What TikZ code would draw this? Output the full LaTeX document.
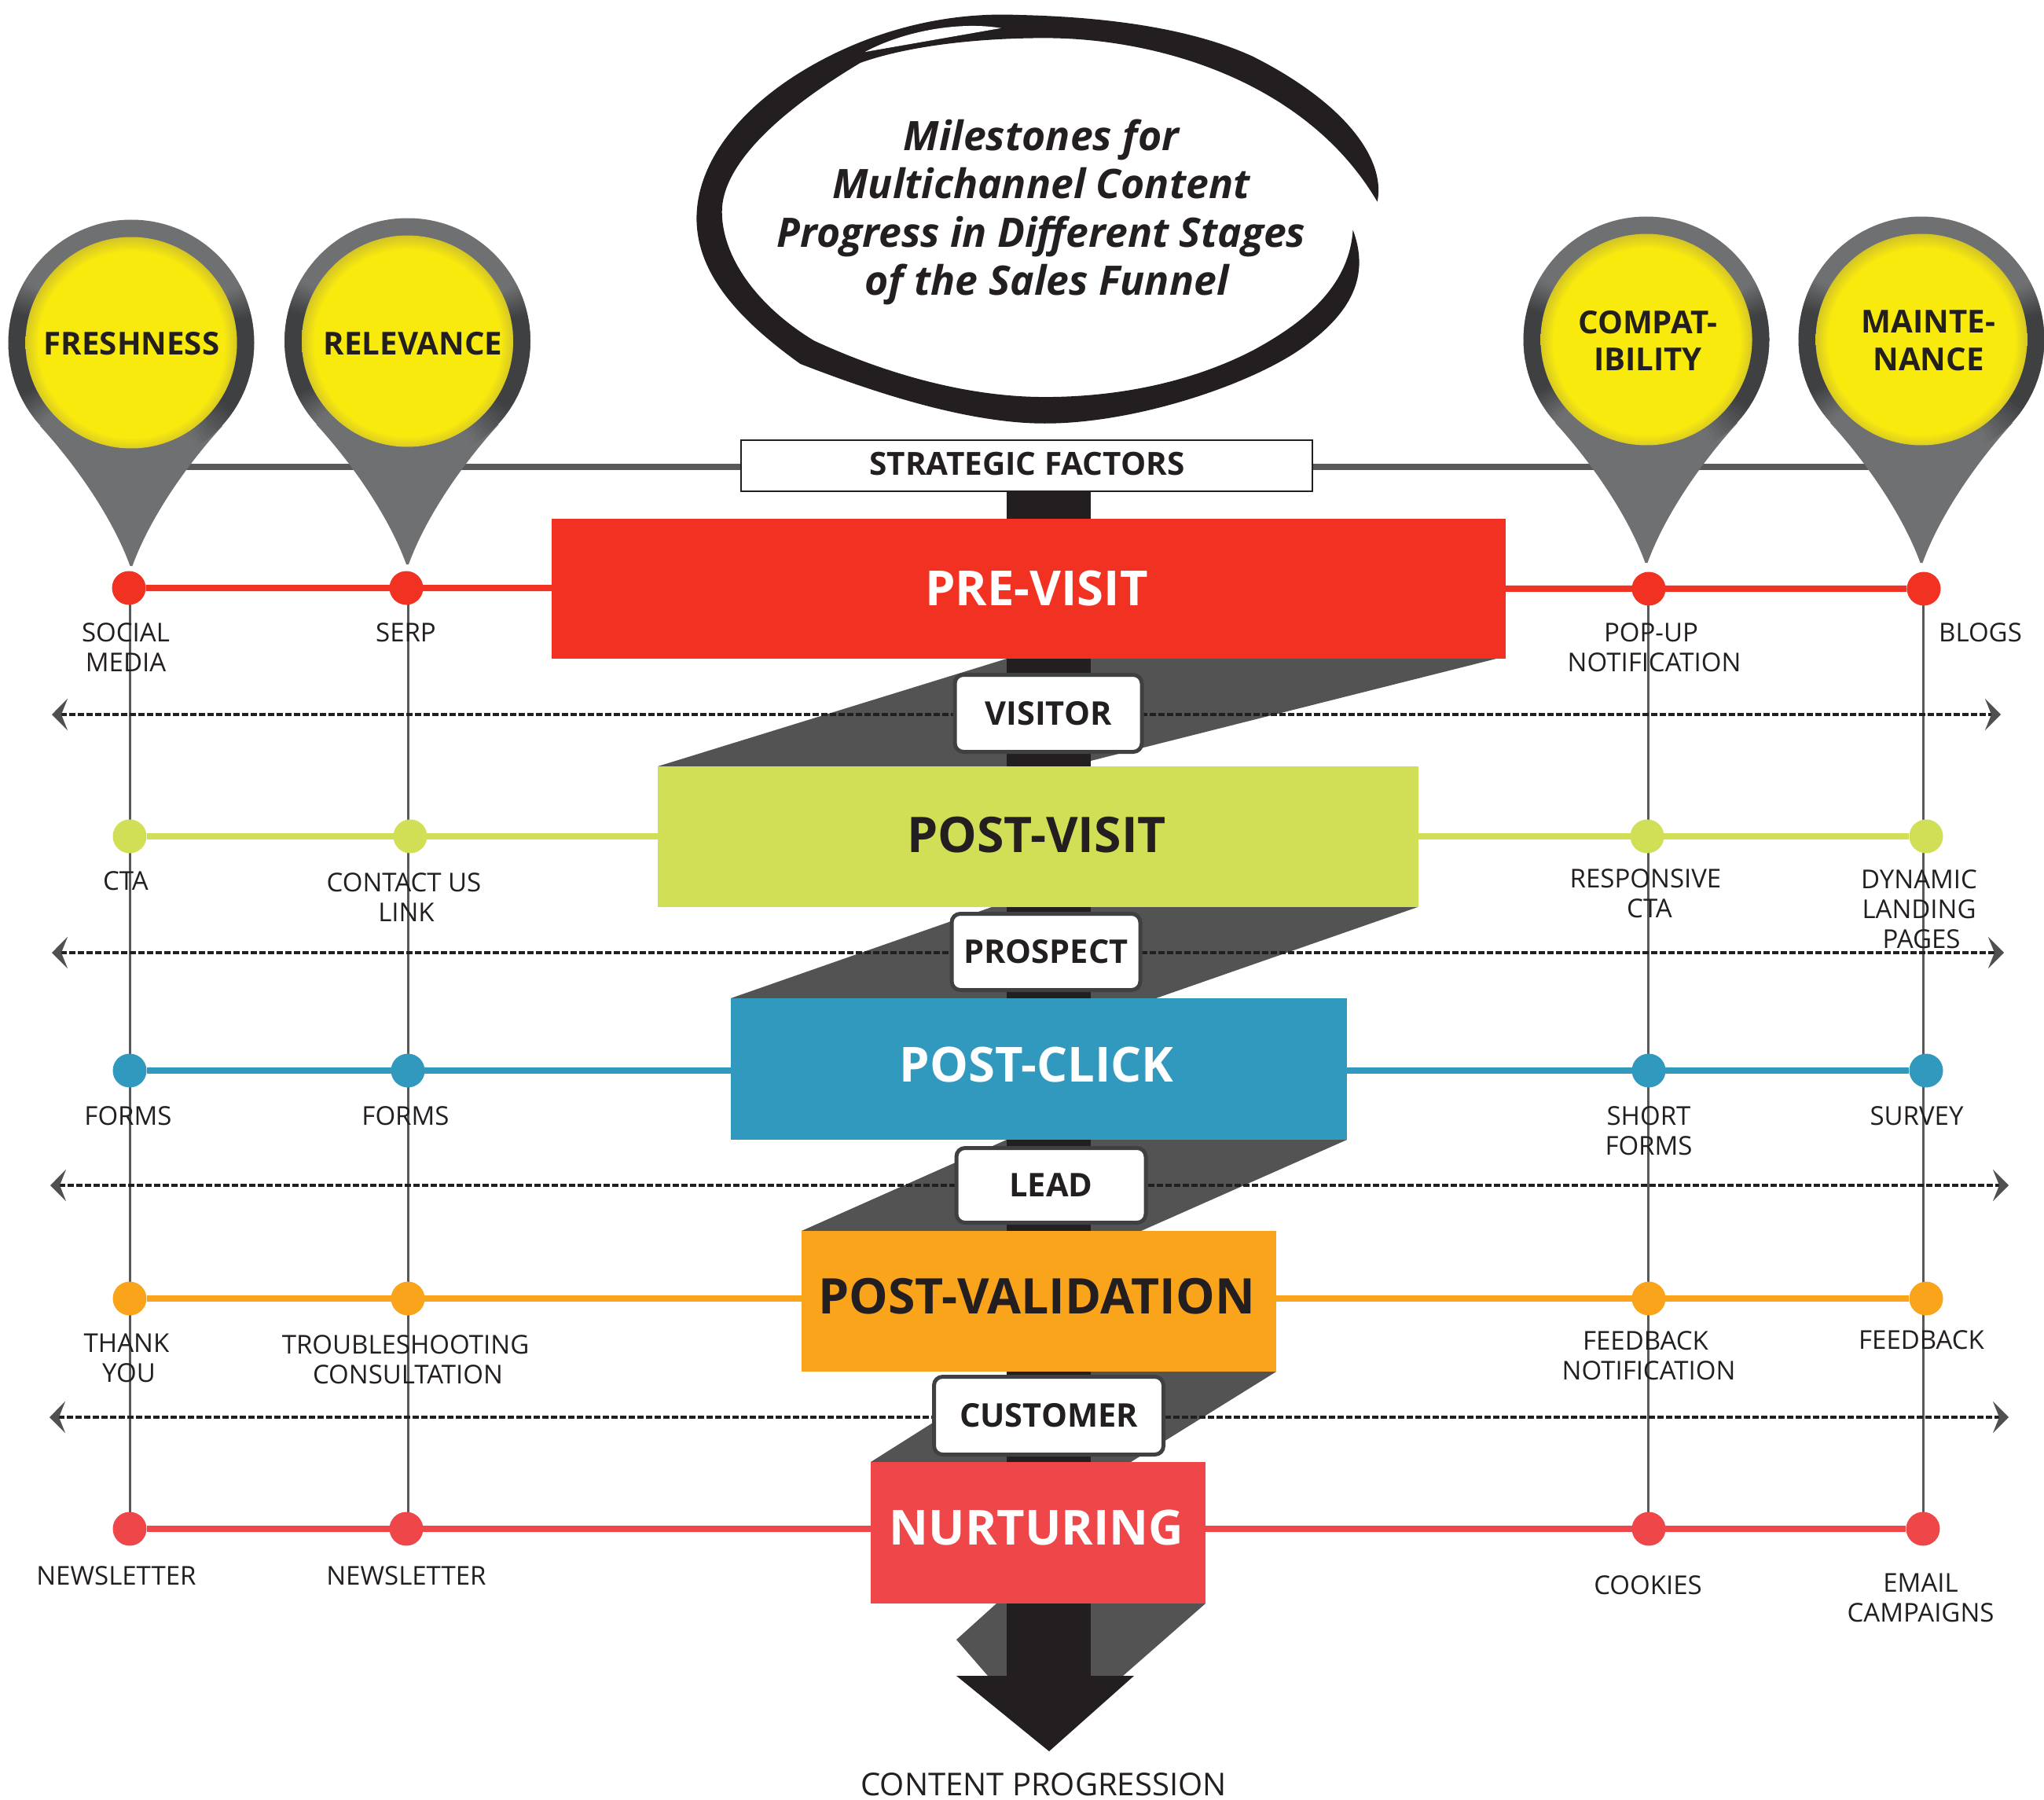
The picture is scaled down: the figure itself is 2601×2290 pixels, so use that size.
\documentclass[tikz,border=0pt]{standalone}
\usepackage{fontspec}
\setmainfont{Open Sans}
\usetikzlibrary{arrows.meta}
\definecolor{ink}{HTML}{231F20}
\definecolor{pingray}{HTML}{6F7072}
\definecolor{ringdark}{HTML}{3F4042}
\definecolor{linegray}{HTML}{58595B}
\definecolor{ribbon}{HTML}{535353}
\definecolor{arrowgray}{HTML}{505050}
\definecolor{cred}{HTML}{F13223}
\definecolor{clime}{HTML}{D1DF57}
\definecolor{cblue}{HTML}{3199BE}
\definecolor{corange}{HTML}{FAA41C}
\definecolor{ccoral}{HTML}{EF4749}
\pgfdeclareradialshading{pinyellow}{\pgfpoint{0bp}{-0.8bp}}{rgb(0bp)=(.976,.918,.055);rgb(22bp)=(.976,.918,.055);rgb(26bp)=(.80,.74,.17);rgb(50bp)=(.80,.74,.17)}
\newcommand{\fsz}[2]{\fontsize{#1}{#2}\selectfont}
\tikzset{
  lbl/.style={inner sep=0pt,align=center,text=ink,font=\fsz{33}{38}},
  pintxt/.style={inner sep=0pt,align=center,text=ink,font=\fsz{40.2}{47.5}\bfseries},
  stagetxt/.style={inner sep=0pt,text=ink,font=\fsz{62.5}{70}\bfseries},
  stagetxtw/.style={inner sep=0pt,text=white,font=\fsz{61.5}{70}\bfseries},
  stagebox/.style={rectangle,inner sep=0pt,draw=none},
  persona/.style={rectangle,rounded corners=11pt,draw=ringdark,line width=5pt,fill=white,inner sep=0pt,text=ink,font=\fsz{41.5}{48}\bfseries},
  milestone/.style={circle,inner sep=0pt,minimum size=43pt,draw=none},
  rowline/.style={line width=8pt},
  vline/.style={line width=3pt,draw=linegray},
  dashline/.style={line width=3.5pt,draw=ink,dash pattern=on 8pt off 3pt,
    {Stealth[length=20pt,width=40pt,inset=8pt,color=arrowgray]}-{Stealth[length=20pt,width=40pt,inset=8pt,color=arrowgray]}},
  pinface/.style={circle,inner sep=0pt,minimum size=269pt,draw=none,shade,shading=pinyellow},
}
\newcommand{\ringramp}[6]{%
  \foreach \ri in {0,...,11}{%
    \pgfmathsetmacro\ra{#3+(#4-#3)*\ri/12}%
    \pgfmathsetmacro\rb{#3+(#4-#3)*(\ri+1.3)/12}%
    \pgfmathsetmacro\rt{#5+(#6-#5)*(\ri+0.5)/12}%
    \draw[draw=ringdark!\rt!pingray,line width=21.5pt] ([shift={(\ra:145.5pt)}]#1,#2) arc[start angle=\ra,end angle=\rb,radius=145.5pt];
  }}
\newcommand{\mypin}[3]{%
  \begin{scope}[shift={(#2,#3)}]
    \fill[pingray] (116,106) .. controls (75.5,150) and (25,219) .. (1.5,284) -- (-1.5,284) .. controls (-25,219) and (-75.5,150) .. (-116,106) -- cycle;
    \fill[pingray] (0,0) circle (156.5pt);
  \end{scope}
  \ringramp{#2}{#3}{150}{166}{0}{100}
  \ringramp{#2}{#3}{166}{205}{100}{100}
  \ringramp{#2}{#3}{205}{222}{100}{0}
  \ringramp{#2}{#3}{28}{12}{0}{100}
  \ringramp{#2}{#3}{12}{-33}{100}{100}
  \ringramp{#2}{#3}{-33}{-58}{100}{0}
  \node[pinface] (#1) at (#2,#3) {};
}
\begin{document}
\begin{tikzpicture}[x=1pt,y=-1pt]
\useasboundingbox (0,0) rectangle (2601,2290);
\fill[white] (0,0) rectangle (2601,2290);

% ---- title blob
\begin{scope}[shift={(860,0)},x=0.5869pt,y=-0.4209pt]
\fill[ink] (1521,610) .. controls (1540,480) and (1450,310) .. (1250,170)
  .. controls (1100,75) and (900,50) .. (740,45)
  .. controls (560,35) and (400,110) .. (280,210)
  .. controls (130,335) and (45,500) .. (45,660)
  .. controls (45,830) and (140,970) .. (270,1100)
  .. controls (400,1170) and (620,1280) .. (800,1280)
  .. controls (1000,1280) and (1250,1160) .. (1360,1050)
  .. controls (1450,960) and (1510,850) .. (1468,695)
  .. controls (1460,860) and (1370,970) .. (1250,1060)
  .. controls (1110,1160) and (950,1200) .. (800,1200)
  .. controls (620,1200) and (440,1120) .. (300,1030)
  .. controls (170,920) and (100,770) .. (100,640)
  .. controls (100,500) and (220,340) .. (400,190)
  .. controls (500,140) and (650,115) .. (800,115)
  .. controls (1050,115) and (1370,250) .. (1521,610) -- cycle;
\fill[white] (410,157) .. controls (500,90) and (620,65) .. (705,85) -- cycle;
\end{scope}
\node[inner sep=0pt,align=center,text=ink,font=\fsz{51.7}{61.6}\bfseries\itshape] (title) at (1325,270)
  {Milestones for\\Multichannel Content\\Progress in Different Stages\\of the Sales Funnel\kern-14pt};

% ---- ribbons, trunk, arrow head
\fill[ribbon] (1281,838) -- (1904,838) -- (1360,975) -- (837,975) -- cycle;
\fill[ribbon] (1262,1154) -- (1804,1154) -- (1471,1270) -- (930,1270) -- cycle;
\fill[ribbon] (1281,1450) -- (1714,1450) -- (1452,1566) -- (1020,1566) -- cycle;
\fill[ribbon] (1290,1745) -- (1624,1745) -- (1439,1860) -- (1108,1860) -- cycle;
\fill[ribbon] (1268,2040) -- (1217,2086) -- (1257,2132) -- (1429,2132) -- (1534,2040) -- cycle;
\fill[ink] (1281,620) rectangle (1388,2135);
\fill[ink] (1217,2132) -- (1443,2132) -- (1335,2228) -- cycle;

% ---- named points
\coordinate (va1) at (165,749); \coordinate (va5) at (165,1945);
\coordinate (vb1) at (519,749); \coordinate (vb5) at (519,1945);
\coordinate (vc1) at (2097,749); \coordinate (vc5) at (2097,1945);
\coordinate (vd1) at (2447,749); \coordinate (vd5) at (2447,1945);
\coordinate (dl1) at (66,909);  \coordinate (dr1) at (2546,909);
\coordinate (dl2) at (66,1212); \coordinate (dr2) at (2550,1212);
\coordinate (dl3) at (64,1508); \coordinate (dr3) at (2556,1508);
\coordinate (dl4) at (63,1803); \coordinate (dr4) at (2556,1803);

% ---- verticals
\draw[vline] (va1) -- (va5);
\draw[vline] (vb1) -- (vb5);
\draw[vline] (vc1) -- (vc5);
\draw[vline] (vd1) -- (vd5);

% ---- dashed levels
\draw[dashline] (dl1) -- (dr1);
\draw[dashline] (dl2) -- (dr2);
\draw[dashline] (dl3) -- (dr3);
\draw[dashline] (dl4) -- (dr4);

% ---- milestone dots
\node[milestone,fill=cred] (a1) at (164,748) {};
\node[milestone,fill=cred] (b1) at (517,748) {};
\node[milestone,fill=cred] (c1) at (2098,749) {};
\node[milestone,fill=cred] (d1) at (2448,749) {};
\node[milestone,fill=clime] (a2) at (165,1064) {};
\node[milestone,fill=clime] (b2) at (522,1064) {};
\node[milestone,fill=clime] (c2) at (2096,1064) {};
\node[milestone,fill=clime] (d2) at (2451,1064) {};
\node[milestone,fill=cblue] (a3) at (165,1362) {};
\node[milestone,fill=cblue] (b3) at (519,1362) {};
\node[milestone,fill=cblue] (c3) at (2098,1362) {};
\node[milestone,fill=cblue] (d3) at (2451,1362) {};
\node[milestone,fill=corange] (a4) at (165,1652) {};
\node[milestone,fill=corange] (b4) at (519,1652) {};
\node[milestone,fill=corange] (c4) at (2098,1652) {};
\node[milestone,fill=corange] (d4) at (2451,1652) {};
\node[milestone,fill=ccoral] (a5) at (165,1945) {};
\node[milestone,fill=ccoral] (b5) at (517,1945) {};
\node[milestone,fill=ccoral] (c5) at (2098,1945) {};
\node[milestone,fill=ccoral] (d5) at (2447,1945) {};
\draw[rowline,cred] (a1) -- (d1);
\draw[rowline,clime] (a2) -- (d2);
\draw[rowline,cblue] (a3) -- (d3);
\draw[rowline,corange] (a4) -- (d4);
\draw[rowline,ccoral] (a5) -- (d5);

% ---- stage boxes
\node[stagebox,fill=cred,minimum width=1214pt,minimum height=178pt] (s1) at (1309,749) {};
\node[stagebox,fill=clime,minimum width=968pt,minimum height=179pt] (s2) at (1321,1064.5) {};
\node[stagebox,fill=cblue,minimum width=784pt,minimum height=180pt] (s3) at (1322,1360) {};
\node[stagebox,fill=corange,minimum width=604pt,minimum height=179pt] (s4) at (1322,1655.5) {};
\node[stagebox,fill=ccoral,minimum width=426pt,minimum height=180pt] (s5) at (1321,1950) {};
\node[stagetxtw] (t1) at (1319,749) {PRE-VISIT};
\node[stagetxt] (t2) at (1319,1062) {POST-VISIT};
\node[stagetxtw] (t3) at (1319,1354) {POST-CLICK};
\node[stagetxt] (t4) at (1319,1649) {POST-VALIDATION};
\node[stagetxtw] (t5) at (1319,1944) {NURTURING};

% ---- persona boxes
\node[persona,minimum width=238pt,minimum height=98pt] (visitor) at (1334,907.5) {VISITOR};
\node[persona,minimum width=240pt,minimum height=97pt] (prospect) at (1331,1211) {PROSPECT};
\node[persona,minimum width=241pt,minimum height=95pt] (lead) at (1337.5,1508) {LEAD};
\node[persona,minimum width=292pt,minimum height=99pt] (customer) at (1334.5,1801) {CUSTOMER};

% ---- strategic bar
\node[inner sep=0pt,draw=none] (sl) at (167,594) {};
\node[inner sep=0pt,draw=none] (sr) at (2445,594) {};
\draw[line width=8pt,draw=linegray] (sl) -- (sr);
\node[rectangle,draw=ink,line width=2.5pt,fill=white,minimum width=727pt,minimum height=65pt,inner sep=0pt] (sbox) at (1306.5,592.5) {};
\node[inner sep=0pt,text=ink,font=\fsz{40.5}{44}\bfseries] (stxt) at (1307,590) {STRATEGIC FACTORS};

% ---- pins
\mypin{p1}{167}{436}
\mypin{p2}{518.5}{434}
\mypin{p3}{2095}{432}
\mypin{p4}{2445}{432}
\node[pintxt] (l1) at (167.5,437.5) {FRESHNESS};
\node[pintxt] (l2) at (525.5,437.5) {RELEVANCE};
\node[pintxt] (l3) at (2097,433.5) {COMPAT-\\IBILITY};
\node[pintxt] (l4) at (2454,433.5) {MAINTE-\\NANCE};

% ---- labels
\node[lbl] (n1) at (160,824) {SOCIAL\\MEDIA};
\node[lbl] (n2) at (516.5,805) {SERP};
\node[lbl] (n3) at (2105,824) {POP-UP\kern8pt\\NOTIFICATION};
\node[lbl] (n4) at (2520,805) {BLOGS};
\node[lbl] (n5) at (160,1121) {CTA};
\node[lbl] (n6) at (514,1142) {CONTACT US\\\kern6pt LINK};
\node[lbl] (n7) at (2094,1137) {RESPONSIVE\\\kern10pt CTA};
\node[lbl] (n8) at (2442,1157) {DYNAMIC\\LANDING\\\kern6pt PAGES};
\node[lbl] (n9) at (163,1420) {FORMS};
\node[lbl] (n10) at (516,1420) {FORMS};
\node[lbl] (n11) at (2098,1439) {SHORT\\FORMS};
\node[lbl] (n12) at (2439,1420) {SURVEY};
\node[lbl] (n13) at (163,1728) {THANK\kern4pt\\\kern2pt YOU};
\node[lbl] (n14) at (516,1730) {TROUBLESHOOTING\\\kern6pt CONSULTATION};
\node[lbl] (n15) at (2098,1725) {FEEDBACK\kern8pt\\NOTIFICATION};
\node[lbl] (n16) at (2445,1705) {FEEDBACK};
\node[lbl] (n17) at (148,2005) {NEWSLETTER};
\node[lbl] (n18) at (517,2005) {NEWSLETTER};
\node[lbl] (n19) at (2097,2017) {COOKIES};
\node[lbl] (n20) at (2444,2033) {EMAIL\\CAMPAIGNS};
\node[inner sep=0pt,text=ink,font=\fsz{40}{48}] (prog) at (1328,2270) {CONTENT PROGRESSION};
\end{tikzpicture}
\end{document}
